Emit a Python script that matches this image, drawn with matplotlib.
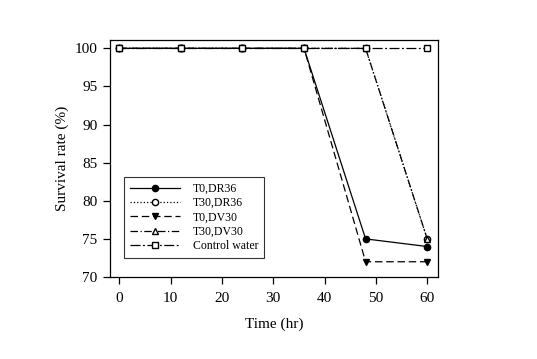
import matplotlib
matplotlib.use("Agg")
import matplotlib.pyplot as plt

plt.rcParams['font.family'] = ['Liberation Serif', 'DejaVu Serif']

# --- data ---
time_hr = [0, 12, 24, 36, 48, 60]
t0_dr36 = [100, 100, 100, 100, 75, 74]
t30_dr36 = [100, 100, 100, 100, 100, 75]
t0_dv30 = [100, 100, 100, 100, 72, 72]
t30_dv30 = [100, 100, 100, 100, 100, 75]
control_water = [100, 100, 100, 100, 100, 100]

fig = plt.figure(figsize=(5.37, 3.59), dpi=100)
ax = fig.add_axes([0.2048, 0.2284, 0.6108, 0.6602])

ms = 4.5
ax.plot(time_hr, t0_dr36, color='black', lw=0.9, ls='-', marker='o', ms=ms,
        mfc='black', mec='black', label='T0,DR36')
ax.plot(time_hr, t30_dr36, color='black', lw=0.9, ls=':', marker='o', ms=ms,
        mfc='white', mec='black', label='T30,DR36')
ax.plot(time_hr, t0_dv30, color='black', lw=0.9, ls=(0, (6, 3)), marker='v', ms=ms + 0.5,
        mfc='black', mec='black', label='T0,DV30')
ax.plot(time_hr, t30_dv30, color='black', lw=0.9, ls=(0, (6, 2, 1, 2)), marker='^', ms=ms,
        mfc='white', mec='black', label='T30,DV30')
ax.plot(time_hr, control_water, color='black', lw=0.9, ls=(0, (8, 2, 1.5, 2)), marker='s', ms=ms,
        mfc='white', mec='black', label='Control water')

ax.set_xlim(-1.8, 62.1)
ax.set_ylim(70, 101.1)
ax.set_xticks([0, 10, 20, 30, 40, 50, 60])
ax.set_yticks([70, 75, 80, 85, 90, 95, 100])
ax.tick_params(direction='out', length=5, width=0.9, labelsize=11, pad=4,
               top=False, right=False)
ax.tick_params(axis='x', pad=6)
for side in ['left', 'bottom', 'top', 'right']:
    ax.spines[side].set_linewidth(0.9)

ax.set_xlabel('Time (hr)', fontsize=11, labelpad=9)
ax.set_ylabel('Survival rate (%)', fontsize=11, labelpad=4)

leg = ax.legend(loc='lower left', bbox_to_anchor=(0.043, 0.08), fontsize=8.5,
                frameon=True, fancybox=False, edgecolor='black', handlelength=4.2,
                borderpad=0.5, labelspacing=0.2, handletextpad=1.1, borderaxespad=0)
leg.get_frame().set_linewidth(0.8)

fig.savefig('out.png', dpi=100)
